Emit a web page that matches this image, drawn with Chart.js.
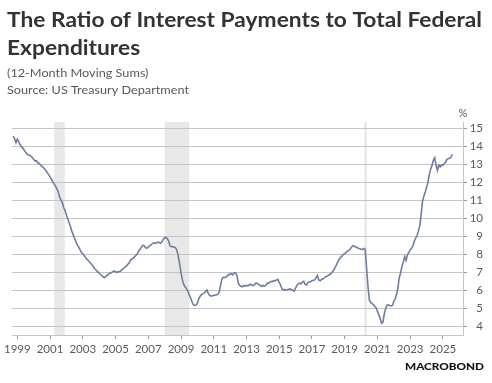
<!DOCTYPE html>
<html>
<head>
<meta charset="utf-8">
<script src="https://cdn.jsdelivr.net/npm/chart.js@4.4.1/dist/chart.umd.min.js"></script>
<style>
html,body{margin:0;padding:0;background:#fff;overflow:hidden}
#wrap{position:relative;width:492px;height:383px}
canvas{display:block}
</style>
</head>
<body>
<div id="wrap"><canvas id="c" width="492" height="383"></canvas></div>
<script>
// ---- Data ----
const titleLines = ["The Ratio of Interest Payments to Total Federal", "Expenditures"];
const subtitleLines = ["(12-Month Moving Sums)", "Source: US Treasury Department"];
const unitLabel = "%";
const logoText = "MACROBOND";

// First observation: October 1998, monthly thereafter
const firstYear = 1998;
const firstMonth = 10;
const ratioValues = [
  14.58, 14.45, 14.22,
  14.42, 14.28, 14.12, 14.0, 13.92, 13.82, 13.7, 13.6, 13.55, 13.52, 13.48, 13.4,
  13.3, 13.2, 13.22, 13.1, 13.08, 12.98, 12.92, 12.85, 12.76, 12.68, 12.55, 12.45,
  12.32, 12.2, 12.05, 11.92, 11.82, 11.65, 11.5, 11.2, 11.05, 10.9, 10.62, 10.45,
  10.2, 10.0, 9.78, 9.55, 9.3, 9.1, 8.9, 8.72, 8.55, 8.42, 8.28, 8.12,
  8.05, 7.95, 7.85, 7.75, 7.68, 7.6, 7.5, 7.42, 7.3, 7.2, 7.12, 7.05,
  6.98, 6.9, 6.83, 6.76, 6.72, 6.8, 6.86, 6.92, 6.98, 7.0, 7.06, 7.1,
  7.05, 7.02, 7.05, 7.06, 7.12, 7.2, 7.25, 7.3, 7.38, 7.46, 7.55, 7.7,
  7.76, 7.8, 7.9, 7.96, 8.05, 8.22, 8.3, 8.42, 8.52, 8.5, 8.38, 8.36,
  8.42, 8.5, 8.55, 8.62, 8.66, 8.63, 8.65, 8.7, 8.68, 8.64, 8.72, 8.85,
  8.94, 8.96, 8.88, 8.75, 8.48, 8.44, 8.45, 8.42, 8.38, 8.25, 7.9, 7.5,
  7.0, 6.6, 6.35, 6.22, 6.1, 6.0, 5.78, 5.6, 5.4, 5.22, 5.18, 5.2,
  5.3, 5.55, 5.7, 5.78, 5.82, 5.88, 5.95, 6.04, 5.85, 5.74, 5.7, 5.72,
  5.74, 5.75, 5.78, 5.8, 5.92, 6.3, 6.65, 6.75, 6.72, 6.76, 6.82, 6.92,
  6.9, 6.95, 6.88, 6.98, 7.0, 6.85, 6.42, 6.3, 6.25, 6.22, 6.28, 6.26,
  6.3, 6.27, 6.33, 6.36, 6.3, 6.28, 6.35, 6.42, 6.4, 6.35, 6.3, 6.24,
  6.3, 6.26, 6.28, 6.4, 6.42, 6.45, 6.52, 6.5, 6.56, 6.55, 6.6, 6.63,
  6.45, 6.32, 6.1, 6.05, 6.06, 6.04, 6.05, 6.08, 6.1, 6.05, 6.02, 5.98,
  6.15, 6.3, 6.38, 6.42, 6.38, 6.48, 6.52, 6.35, 6.32, 6.45, 6.48, 6.5,
  6.55, 6.58, 6.6, 6.72, 6.85, 6.6, 6.55, 6.62, 6.65, 6.72, 6.78, 6.8,
  6.86, 6.9, 6.95, 7.05, 7.15, 7.3, 7.45, 7.62, 7.75, 7.85, 7.92, 8.02,
  8.05, 8.12, 8.2, 8.24, 8.3, 8.42, 8.5, 8.47, 8.43, 8.4, 8.36, 8.33,
  8.3, 8.28, 8.35, 8.3, 7.3, 6.3, 5.5, 5.35, 5.3, 5.22, 5.12, 5.05,
  4.85, 4.68, 4.45, 4.2, 4.25, 4.7, 5.0, 5.2, 5.22, 5.18, 5.15, 5.18,
  5.4, 5.55, 5.8, 6.15, 6.72, 7.0, 7.35, 7.6, 7.9, 7.68, 8.0, 8.12,
  8.28, 8.35, 8.48, 8.75, 8.92, 9.05, 9.3, 9.6, 10.2, 10.95, 11.25, 11.45,
  11.75, 12.0, 12.45, 12.75, 12.95, 13.25, 13.38, 12.95, 12.68, 12.98, 12.88, 12.98,
  12.96, 13.05, 13.15, 13.3, 13.34, 13.36, 13.42, 13.58
];

// Recession periods (fractional years)
const recessionStarts = [2001.25, 2008.0, 2020.2];
const recessionEnds = [2001.9, 2009.5, 2020.36];

// Tick labels
const xTickYears = [1999, 2001, 2003, 2005, 2007, 2009, 2011, 2013, 2015, 2017, 2019, 2021, 2023, 2025];
const yTickValues = [4, 5, 6, 7, 8, 9, 10, 11, 12, 13, 14, 15];

// ---- Build points ----
const points = ratioValues.map((v, i) => {
  const m = (firstMonth - 1) + i;
  return { x: firstYear + m / 12, y: v };
});

const GRID = '#c4c4c4';
const TXT = '#5a5a5a';
const FONT = 'Lato, "Open Sans", sans-serif';

const recessionPlugin = {
  id: 'recessions',
  beforeDraw(chart) {
    const { ctx, chartArea, scales } = chart;
    ctx.save();
    ctx.fillStyle = '#e8e8e8';
    for (let i = 0; i < recessionStarts.length; i++) {
      const x0 = scales.x.getPixelForValue(recessionStarts[i]);
      const x1 = scales.x.getPixelForValue(recessionEnds[i]);
      ctx.fillRect(x0, chartArea.top, x1 - x0, chartArea.bottom - chartArea.top);
    }
    ctx.restore();
  }
};

function drawScaledText(ctx, text, x, y, sx) {
  ctx.save();
  ctx.translate(x, y);
  ctx.scale(sx, 1);
  ctx.fillText(text, 0, 0);
  ctx.restore();
}

const textPlugin = {
  id: 'texts',
  afterDraw(chart) {
    const ctx = chart.ctx;
    ctx.save();
    ctx.textBaseline = 'alphabetic';
    ctx.textAlign = 'left';
    // Title
    ctx.fillStyle = '#333333';
    ctx.font = 'bold 20px ' + FONT;
    const tw = ctx.measureText(titleLines[0]).width;
    const tsx = 475 / tw;
    drawScaledText(ctx, titleLines[0], 7, 27, tsx);
    drawScaledText(ctx, titleLines[1], 7, 55, tsx);
    // Subtitle
    ctx.fillStyle = '#595959';
    ctx.font = '12px ' + FONT;
    const sw = ctx.measureText(subtitleLines[1]).width;
    const ssx = 182 / sw;
    drawScaledText(ctx, subtitleLines[0], 7, 77, ssx);
    drawScaledText(ctx, subtitleLines[1], 7, 94, ssx);
    // Unit
    ctx.fillStyle = TXT;
    ctx.font = '11px ' + FONT;
    ctx.textAlign = 'center';
    ctx.textBaseline = 'middle';
    ctx.fillText(unitLabel, 463, 113);
    // Logo
    ctx.fillStyle = '#111111';
    ctx.font = '900 9px ' + FONT;
    ctx.textAlign = 'left';
    ctx.textBaseline = 'alphabetic';
    const lw = ctx.measureText(logoText).width;
    drawScaledText(ctx, logoText, 405, 370, 79 / lw);
    ctx.restore();
  }
};

new Chart(document.getElementById('c'), {
  type: 'line',
  data: {
    datasets: [{
      data: points,
      borderColor: '#6e7ea0',
      borderWidth: 1.6,
      pointRadius: 0,
      tension: 0,
      fill: false
    }]
  },
  options: {
    responsive: false,
    animation: false,
    events: [],
    parsing: true,
    layout: { padding: { top: 122, left: 12, right: 9, bottom: 0 } },
    plugins: { legend: { display: false }, tooltip: { enabled: false }, title: { display: false } },
    scales: {
      x: {
        type: 'linear',
        position: 'bottom',
        min: 1998.676,
        max: 2026.227,
        afterBuildTicks(scale) { scale.ticks = xTickYears.map(v => ({ value: v })); },
        afterFit(scale) { scale.height = 48; },
        grid: { display: true, drawOnChartArea: false, drawTicks: true, tickLength: 4, color: GRID, tickColor: '#9a9a9a' },
        border: { display: true, color: GRID, width: 1 },
        ticks: {
          padding: 3,
          maxRotation: 0,
          autoSkip: false,
          color: TXT,
          font: { family: FONT, size: 11.5 },
          callback: v => String(v)
        }
      },
      y: {
        type: 'linear',
        position: 'right',
        min: 3.54,
        max: 15.37,
        afterBuildTicks(scale) { scale.ticks = yTickValues.map(v => ({ value: v })); },
        afterFit(scale) { scale.width = 20; },
        grid: { display: true, drawOnChartArea: true, drawTicks: true, tickLength: 4, color: GRID, tickColor: '#9a9a9a' },
        border: { display: true, color: GRID, width: 1 },
        ticks: {
          padding: 2,
          crossAlign: 'far',
          color: TXT,
          font: { family: FONT, size: 11.5 },
          callback: v => String(v)
        }
      }
    }
  },
  plugins: [recessionPlugin, textPlugin]
});
</script>
</body>
</html>
